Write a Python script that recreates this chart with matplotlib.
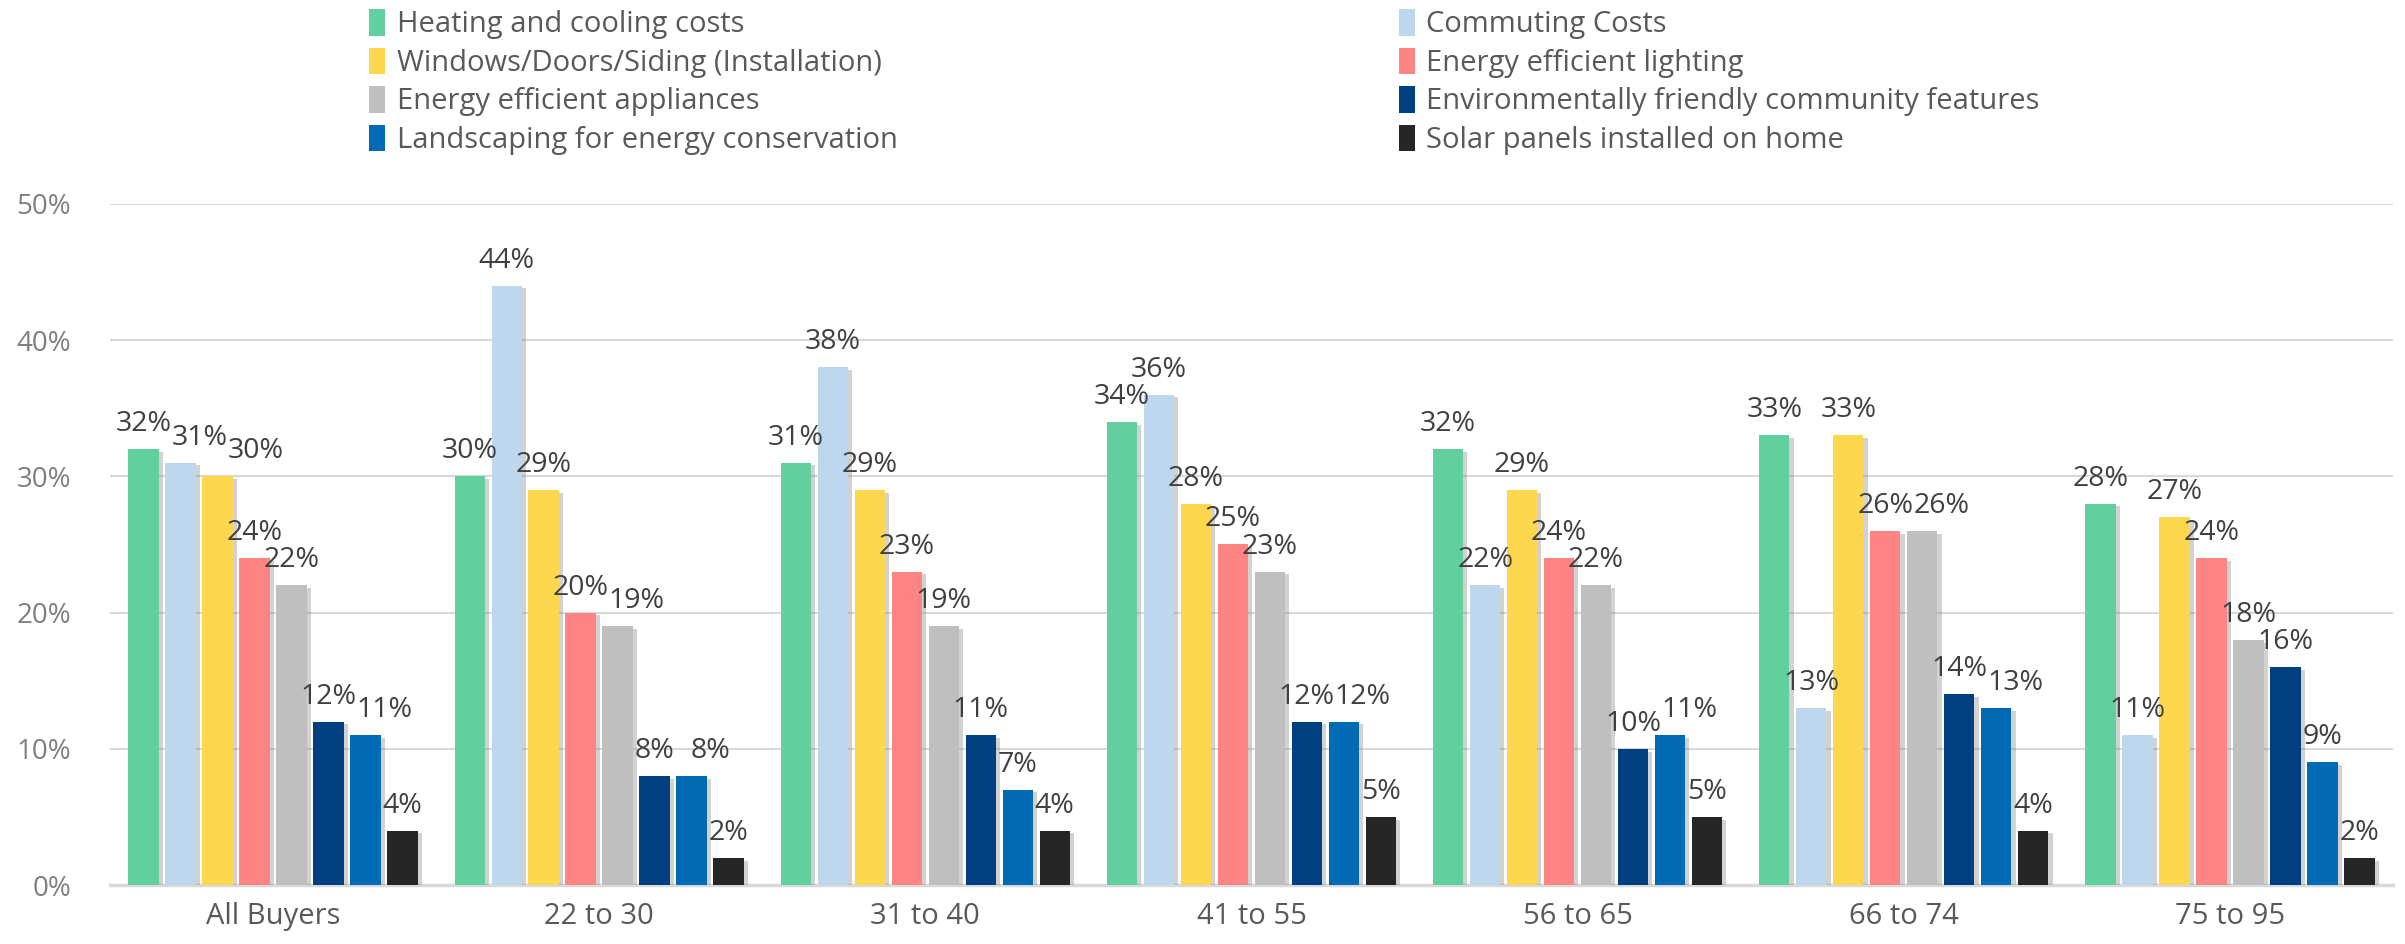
import numpy as np
import matplotlib.pyplot as plt
import matplotlib.patheffects as pe
from matplotlib.patches import Patch

groups = ['All Buyers', '22 to 30', '31 to 40', '41 to 55', '56 to 65', '66 to 74', '75 to 95']
series = ['Heating and cooling costs', 'Commuting Costs', 'Windows/Doors/Siding (Installation)',
          'Energy efficient lighting', 'Energy efficient appliances',
          'Environmentally friendly community features', 'Landscaping for energy conservation',
          'Solar panels installed on home']
heating = [32, 30, 31, 34, 32, 33, 28]
commuting = [31, 44, 38, 36, 22, 13, 11]
windows = [30, 29, 29, 28, 29, 33, 27]
lighting = [24, 20, 23, 25, 24, 26, 24]
appliances = [22, 19, 19, 23, 22, 26, 18]
environ = [12, 8, 11, 12, 10, 14, 16]
landscaping = [11, 8, 7, 12, 11, 13, 9]
solar = [4, 2, 4, 5, 5, 4, 2]
yticks = [0, 10, 20, 30, 40, 50]

values = [heating, commuting, windows, lighting, appliances, environ, landscaping, solar]
colors = ['#61D09E', '#BDD7EE', '#FDD84E', '#FF8585', '#BFBFBF', '#004080', '#006AB5', '#262626']

plt.rcParams['font.family'] = ['Open Sans', 'DejaVu Sans']

fig = plt.figure(figsize=(24.05, 9.44), dpi=100)
ax = fig.add_axes([0.0457, 0.0625, 0.9493, 0.7215])
ax.set_ylim(0, 50)
ax.set_xlim(-0.5, len(groups) - 0.5)

x = np.arange(len(groups))
slot = 0.1134
bw = 0.093
shadow = [pe.SimplePatchShadow(offset=(3, -2), shadow_rgbFace='#808080', alpha=0.35), pe.Normal()]

for i, vals in enumerate(values):
    pos = x + (i - 3.5) * slot
    bars = ax.bar(pos, vals, width=bw, color=colors[i], zorder=3, label=series[i])
    for b in bars:
        b.set_path_effects(shadow)

# data labels, nudged right when they would collide with the previous one
lw_px, lh_px = 56, 27
for g in range(len(groups)):
    prev = None
    for i, vals in enumerate(values):
        px, py = ax.transData.transform((x[g] + (i - 3.5) * slot, vals[g]))
        py += 11
        if prev is not None and abs(py - prev[1]) < lh_px and px - prev[0] < lw_px:
            px = prev[0] + lw_px
        prev = (px, py)
        dx, dy = ax.transData.inverted().transform((px, py))
        ax.text(dx, dy, f'{vals[g]}%', ha='center', va='bottom', fontsize=20.5,
                color='#404040', zorder=5)

ax.set_yticks(yticks)
ax.set_yticklabels([f'{t}%' for t in yticks], fontsize=20, color='#7F7F7F')
ax.set_xticks(x)
ax.set_xticklabels(groups, fontsize=21, color='#595959')
ax.tick_params(axis='both', length=0, pad=12)
ax.tick_params(axis='y', pad=28)
ax.grid(axis='y', color='#D9D9D9', lw=1.5, zorder=0)
for s in ['top', 'right', 'left']:
    ax.spines[s].set_visible(False)
ax.spines['bottom'].set_color('#D9D9D9')
ax.spines['bottom'].set_linewidth(2.5)

handles = [Patch(facecolor=c) for c in colors]
for col, xpos in [(0, 0.1535), (1, 0.5815)]:
    idx = [col, col + 2, col + 4, col + 6]
    fig.legend([handles[k] for k in idx], [series[k] for k in idx],
               loc='upper left', bbox_to_anchor=(xpos, 0.99), frameon=False,
               fontsize=21, labelcolor='#595959', handlelength=0.55, handleheight=1.0,
               handletextpad=0.4, labelspacing=0.29, borderpad=0, borderaxespad=0)

plt.savefig('out.png', dpi=100)
